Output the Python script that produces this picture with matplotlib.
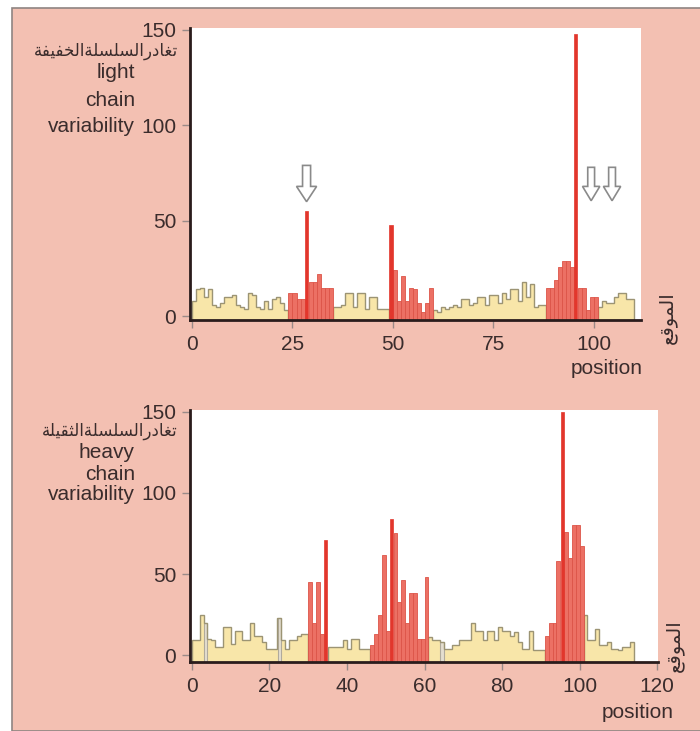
import numpy as np
import matplotlib
matplotlib.use("Agg")
import matplotlib.pyplot as plt
from matplotlib.patches import Rectangle, FancyArrow

# ---------------- data ----------------
light_values = [8, 14, 15, 10, 14, 6, 5, 7, 10, 10, 11, 6, 5, 4, 12, 11, 5, 4, 8, 4, 9, 10, 7, 3,
                12, 12, 9, 9, 55, 18, 18, 22, 15, 15, 15,
                5, 5, 6, 12, 12, 5, 12, 12, 4, 10, 10, 4, 4, 4,
                48, 24, 8, 21, 8, 15, 14, 7, 2, 7, 15,
                3, 2, 5, 4, 5, 6, 5, 9, 9, 6, 7, 10, 10, 6, 11, 11, 7, 12, 9, 14, 14, 8, 18, 10,
                17, 5, 6, 6,
                15, 15, 19, 26, 29, 29, 26, 148, 15, 15, 3, 10, 10,
                5, 8, 7, 7, 10, 12, 12, 9, 9]
light_hypervariable = [(25, 35), (50, 60), (89, 101)]
light_spikes = [29, 50, 96]
light_xticks = [0, 25, 50, 75, 100]

heavy_values = [9, 9, 25, 20, 10, 9, 5, 5, 17, 17, 7, 15, 15, 9, 9, 20, 12, 12, 8, 4, 4, 4, 23, 9,
                4, 9, 9, 12, 13, 13,
                45, 20, 45, 13, 71,
                5, 5, 5, 5, 9, 4, 10, 10, 4, 4, 4,
                6, 13, 25, 62, 15, 84, 75, 33, 46, 20, 38, 38, 10, 10, 48,
                11, 9, 9, 8, 4, 4, 6, 6, 9, 9, 9, 20, 15, 15, 9, 15, 15, 9, 17, 15, 15, 12, 14, 8,
                4, 4, 15, 3, 3, 3,
                12, 20, 20, 58, 150, 76, 60, 80, 80, 67,
                25, 9, 9, 16, 6, 6, 8, 4, 4, 3, 5, 5, 8]
heavy_hypervariable = [(31, 35), (47, 61), (92, 101)]
heavy_spikes = [35, 52, 96]
heavy_grey = [4, 23, 65]
heavy_xticks = [0, 20, 40, 60, 80, 100, 120]

yticks = [0, 50, 100, 150]
light_arrows = [28.5, 99.3, 104.5]

# ---------------- styling ----------------
PINK = "#f3c0b2"
YELLOW = "#f8e6a9"
YEDGE = "#9c9474"
RED = "#ec7064"
REDEDGE = "#dc5448"
SPIKE = "#e2362c"
TXT = "#3a2c2c"
TICK = "#9a8a88"

FORMS = {
    'ا': ('\uFE8D', '\uFE8E', None, None),
    'ت': ('\uFE95', '\uFE96', '\uFE97', '\uFE98'),
    'ة': ('\uFE93', '\uFE94', None, None),
    'ث': ('\uFE99', '\uFE9A', '\uFE9B', '\uFE9C'),
    'خ': ('\uFEA5', '\uFEA6', '\uFEA7', '\uFEA8'),
    'د': ('\uFEA9', '\uFEAA', None, None),
    'ر': ('\uFEAD', '\uFEAE', None, None),
    'س': ('\uFEB1', '\uFEB2', '\uFEB3', '\uFEB4'),
    'ع': ('\uFEC9', '\uFECA', '\uFECB', '\uFECC'),
    'غ': ('\uFECD', '\uFECE', '\uFECF', '\uFED0'),
    'ف': ('\uFED1', '\uFED2', '\uFED3', '\uFED4'),
    'ق': ('\uFED5', '\uFED6', '\uFED7', '\uFED8'),
    'ل': ('\uFEDD', '\uFEDE', '\uFEDF', '\uFEE0'),
    'م': ('\uFEE1', '\uFEE2', '\uFEE3', '\uFEE4'),
    'و': ('\uFEED', '\uFEEE', None, None),
    'ي': ('\uFEF1', '\uFEF2', '\uFEF3', '\uFEF4'),
}


def shape(s):
    out = []
    for i, ch in enumerate(s):
        if ch not in FORMS:
            out.append(ch)
            continue
        prev = s[i - 1] if i > 0 else ''
        nxt = s[i + 1] if i + 1 < len(s) else ''
        jp = prev in FORMS and FORMS[prev][2] is not None
        jn = FORMS[ch][2] is not None and nxt in FORMS
        iso, fin, ini, med = FORMS[ch]
        out.append(med if (jp and jn) else fin if jp else ini if jn else iso)
    return ''.join(reversed(out))


plt.rcParams['font.family'] = ['Liberation Sans', 'DejaVu Sans']
W, H = 700, 731
fig = plt.figure(figsize=(W / 100, H / 100), dpi=100, facecolor="white")

# pink panel with frame
fig.patches.append(Rectangle((12 / W, 0), 1.0, 1 - 8 / H, transform=fig.transFigure,
                             facecolor=PINK, edgecolor="#8f8482", lw=1.2, zorder=-10))


def fx(px):
    return px / W


def fy(py):
    return 1 - py / H


def panel(rect, values, hyper, spikes, xticks, xlim, ylim, grey=()):
    ax = fig.add_axes(rect)
    ax.set_zorder(1)
    ax.set_facecolor("white")
    vals = np.array(values, dtype=float)
    n = len(vals)
    pos = np.arange(1, n + 1)
    edges = np.arange(0, n + 1)
    floor = ylim[0]
    mask = np.zeros(n, bool)
    for a, b in hyper:
        mask |= (pos >= a) & (pos <= b)
    # yellow (framework) segments: filled steps with an outline
    i = 0
    while i < n:
        if mask[i]:
            i += 1
            continue
        j = i
        while j < n and not mask[j]:
            j += 1
        ax.stairs(vals[i:j], edges[i:j + 1], baseline=floor, fill=True,
                  color=YELLOW, zorder=1)
        ax.stairs(vals[i:j], edges[i:j + 1], baseline=floor, fill=False,
                  color=YEDGE, lw=1.0, zorder=2)
        i = j
    gmask = np.isin(pos, grey)
    if gmask.any():
        ax.bar(pos[gmask] - 0.5, vals[gmask] - floor, bottom=floor, width=0.8,
               color="#e4ded0", edgecolor="#b0aa9c", lw=0.8, zorder=1.5)
    smask = np.isin(pos, spikes)
    rm = mask & ~smask
    ax.bar(pos[rm] - 0.5, vals[rm] - floor, bottom=floor, width=1,
           color=RED, edgecolor=REDEDGE, lw=0.6, zorder=3)
    ax.bar(pos[smask] - 0.5, vals[smask] - floor, bottom=floor, width=0.8,
           color=SPIKE, edgecolor=SPIKE, lw=0.5, zorder=4)
    ax.set_xlim(*xlim)
    ax.set_ylim(*ylim)
    for s in ("top", "right"):
        ax.spines[s].set_visible(False)
    for s in ("left", "bottom"):
        ax.spines[s].set_color("#2a1c1c")
        ax.spines[s].set_linewidth(2.0)
        ax.spines[s].set_zorder(6)
    ax.set_xticks(xticks)
    ax.set_yticks(yticks)
    ax.tick_params(axis="both", direction="out", length=6, width=1, color=TICK,
                   labelsize=15, labelcolor=TXT)
    ax.tick_params(axis="x", pad=5)
    ax.tick_params(axis="y", pad=4)
    return ax


ax1 = panel([fx(190), fy(320), 451 / W, 292 / H], light_values, light_hypervariable,
            light_spikes, light_xticks, (-0.5, 111.7), (-2.0, 151.0))
ax2 = panel([fx(190), fy(662), 468 / W, 252 / H], heavy_values, heavy_hypervariable,
            heavy_spikes, heavy_xticks, (-0.5, 120.2), (-4.3, 151.2), heavy_grey)

# hollow arrows in the light chain panel
for i, xa in enumerate(light_arrows):
    big = i == 0
    ax1.add_patch(FancyArrow(xa, 79 if big else 78, 0, -(19 if big else 17.5),
                             width=2.0 if big else 1.7,
                             head_width=5.0 if big else 4.3,
                             head_length=8.0 if big else 7.5,
                             length_includes_head=True, facecolor="white",
                             edgecolor="#8a8a8a", lw=1.2, zorder=7))

# y-axis labels
ar_top = shape("تغادرالسلسلةالخفيفة")
ar_bot = shape("تغادرالسلسلةالثقيلة")
fig.text(fx(178), fy(51), ar_top, ha="right", va="center", fontsize=12,
         color=TXT, family="DejaVu Sans")
for txt, y in (("light", 73), ("chain", 100), ("variability", 127)):
    fig.text(fx(135), fy(y), txt, ha="right", va="center", fontsize=15, color=TXT)
fig.text(fx(178), fy(431), ar_bot, ha="right", va="center", fontsize=12,
         color=TXT, family="DejaVu Sans")
for txt, y in (("heavy", 452), ("chain", 474), ("variability", 495)):
    fig.text(fx(135), fy(y), txt, ha="right", va="center", fontsize=15, color=TXT)

# x-axis labels
fig.text(fx(607), fy(369), "position", ha="center", va="center", fontsize=15, color=TXT)
fig.text(fx(638), fy(713), "position", ha="center", va="center", fontsize=15, color=TXT)
ar_pos = shape("الموقع")
fig.text(fx(667), fy(318), ar_pos, ha="center", va="center", rotation=90,
         fontsize=14, color=TXT, family="DejaVu Sans")
fig.text(fx(674), fy(646), ar_pos, ha="center", va="center", rotation=90,
         fontsize=14, color=TXT, family="DejaVu Sans")

fig.savefig("out.png", dpi=100, facecolor="white")
